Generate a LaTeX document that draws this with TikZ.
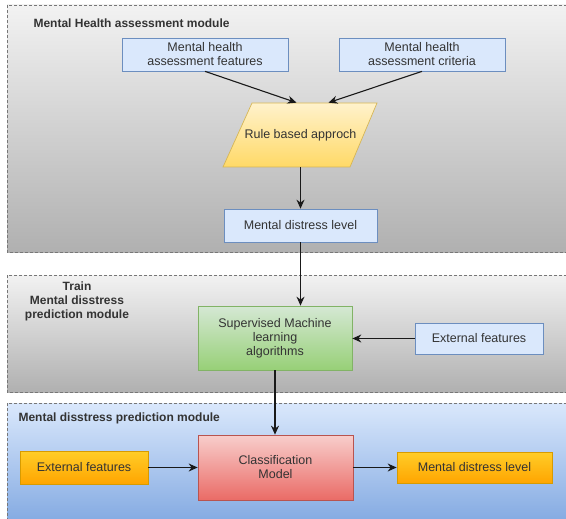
\documentclass[tikz,border=0pt]{standalone}
\usepackage{fontspec}
\setmainfont{Liberation Sans}
\usetikzlibrary{arrows.meta}

\begin{document}
\begin{tikzpicture}[x=1pt,y=-1pt,
        font=\fontsize{12.5}{14}\selectfont,
        boxNode/.style={draw,line width=0.7pt,inner sep=0pt,align=center,text=textGray},
        blueBox/.style={boxNode,fill=blueFill,draw=blueLine},
        greenBox/.style={boxNode,top color=greenHigh,bottom color=greenLow,draw=greenLine},
        redBox/.style={boxNode,top color=redHigh,bottom color=redLow,draw=redLine},
        orangeBox/.style={boxNode,top color=orangeHigh,bottom color=orangeLow,draw=orangeLine},
        ruleShape/.style={line width=0.7pt,top color=yellowHigh,bottom color=yellowLow,draw=yellowLine},
        panelBox/.style={draw=panelLine,line width=0.6pt,dash pattern=on 3pt off 2pt},
        labelText/.style={font=\bfseries\fontsize{12}{14}\selectfont,text=black!80},
        linkArrow/.style={-{Stealth[length=9pt,width=8pt]},line width=1.1pt,draw=black!90}]
    \definecolor{textGray}{HTML}{333333}
    \definecolor{panelLine}{HTML}{777777}
    \definecolor{panelHigh}{HTML}{F2F2F2}
    \definecolor{panelLow}{HTML}{B0B0B0}
    \definecolor{skyHigh}{HTML}{DAE8FC}
    \definecolor{skyLow}{HTML}{7EA6E0}
    \definecolor{blueFill}{HTML}{DAE8FC}
    \definecolor{blueLine}{HTML}{6C8EBF}
    \definecolor{greenHigh}{HTML}{D5E8D4}
    \definecolor{greenLow}{HTML}{97D077}
    \definecolor{greenLine}{HTML}{82B366}
    \definecolor{redHigh}{HTML}{F8CECC}
    \definecolor{redLow}{HTML}{EA6B66}
    \definecolor{redLine}{HTML}{B85450}
    \definecolor{orangeHigh}{HTML}{FFCD28}
    \definecolor{orangeLow}{HTML}{FFA500}
    \definecolor{orangeLine}{HTML}{D79B00}
    \definecolor{yellowHigh}{HTML}{FFF2CC}
    \definecolor{yellowLow}{HTML}{FFD966}
    \definecolor{yellowLine}{HTML}{D6B656}

    \useasboundingbox (0,0) rectangle (566,519);
    \fill[white] (0,0) rectangle (566,519);
    \begin{scope}
        \clip (0,0) rectangle (566,519);
        \foreach \yTop/\yBot in {5/252,275/392}
            \draw[panelBox,top color=panelHigh,bottom color=panelLow] (7,\yTop) rectangle (575,\yBot);
        \draw[panelBox,top color=skyHigh,bottom color=skyLow] (7,403) rectangle (575,530);
    \end{scope}

    \node[labelText,anchor=west] (healthLabel) at (30,23) {Mental Health assessment module};
    \node[labelText,align=center] (trainLabel) at (77,301) {Train\\Mental disstress\\prediction module};
    \node[labelText,anchor=west] (predictLabel) at (15,418) {Mental disstress prediction module};

    \coordinate (ruleCenter) at (300.5,135);
    \draw[ruleShape] ([shift={(-77.5,32)}]ruleCenter) -- ([shift={(-48.5,-32)}]ruleCenter)
        -- ([shift={(76.5,-32)}]ruleCenter) -- ([shift={(49.5,32)}]ruleCenter) -- cycle;

    \node[blueBox,minimum width=166pt,minimum height=33pt] (featNode) at (205,54.5) {Mental health\\assessment features};
    \node[blueBox,minimum width=166pt,minimum height=33pt] (critNode) at (422,54.5) {Mental health\\assessment criteria};
    \node[boxNode,draw=none,minimum width=110pt,minimum height=64pt] (ruleNode) at (ruleCenter) {Rule based approch};
    \node[blueBox,minimum width=153pt,minimum height=33pt] (levelNode) at (300.5,225.5) {Mental distress level};
    \node[greenBox,minimum width=154pt,minimum height=64pt] (learnNode) at (275,338) {Supervised Machine\\learning\\algorithms};
    \node[blueBox,minimum width=128pt,minimum height=31pt] (extTrainNode) at (479,338.5) {External features};
    \node[redBox,minimum width=155pt,minimum height=65pt] (classNode) at (275.5,467.5) {Classification\\Model};
    \node[orangeBox,minimum width=128pt,minimum height=33pt] (extNode) at (84,467.5) {External features};
    \node[orangeBox,minimum width=155pt,minimum height=31pt] (outNode) at (474.5,467.5) {Mental distress level};

    \draw[linkArrow] (featNode.south) -- ([xshift=-4pt]ruleNode.north);
    \draw[linkArrow] (critNode.south) -- ([xshift=28pt]ruleNode.north);
    \draw[linkArrow] (ruleNode.south) -- (levelNode.north);
    \draw[linkArrow] (levelNode.south) -- (levelNode.south |- learnNode.north);
    \draw[linkArrow] (extTrainNode.west) -- (extTrainNode.west -| learnNode.east);
    \draw[linkArrow] (learnNode.south) -- (learnNode.south |- classNode.north);
    \draw[linkArrow] (extNode.east) -- (classNode.west);
    \draw[linkArrow] (classNode.east) -- (outNode.west);
\end{tikzpicture}
\end{document}
